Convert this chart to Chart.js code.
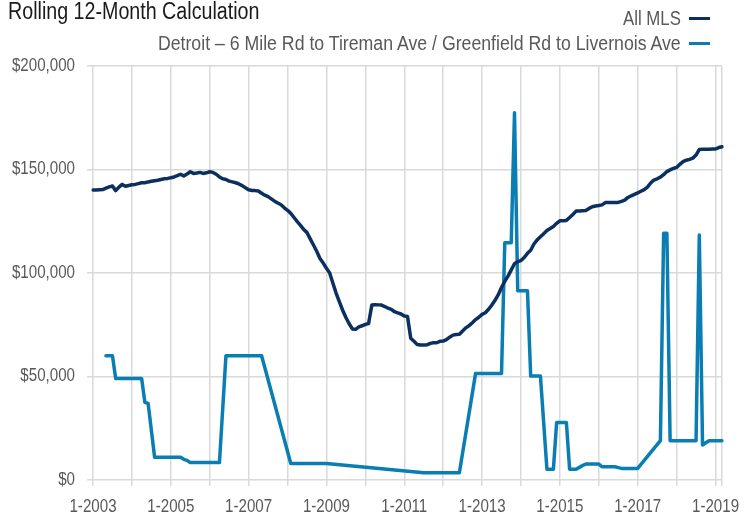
<!DOCTYPE html>
<html lang="en">
<head>
<meta charset="UTF-8">
<title>Rolling 12-Month Calculation</title>
<style>
  body { margin: 0; background: #fff; }
  #wrap {
    position: relative; width: 755px; height: 515px;
    font-family: "Liberation Sans", Arial, sans-serif;
  }
  #chart { position: absolute; left: 0; top: 0; }
  #title {
    position: absolute; left: 8px; top: -2px; font-size: 23px; line-height: 26px;
    color: #1a1a1a; white-space: nowrap; transform: scaleX(0.855); transform-origin: left center;
  }
  .leg {
    position: absolute; right: 74px; font-size: 20px; line-height: 22px; color: #595959;
    white-space: nowrap; transform-origin: right center;
  }
  .swatch { position: absolute; width: 21px; height: 3px; }
</style>
</head>
<body>
<div id="wrap">
  <canvas id="chart" width="755" height="515"></canvas>
  <div id="title">Rolling 12-Month Calculation</div>
  <div class="leg" style="top:7px; transform:scaleX(0.84)">All MLS</div>
  <div class="leg" style="top:32px; transform:scaleX(0.885)">Detroit – 6 Mile Rd to Tireman Ave / Greenfield Rd to Livernois Ave</div>
  <span class="swatch" style="left:689px; top:17px; background:#0b2f5e"></span>
  <span class="swatch" style="left:689px; top:42px; background:#0a7db3"></span>
</div>
<script src="https://cdn.jsdelivr.net/npm/chart.js"></script>
<script>
// monthly rolling 12-month median price, 1-2003 .. 3-2019
var allMls = [
  140100, 140100, 140200, 140300, 141000, 141600, 142000, 139800, 141500, 142800, 141900, 142300,
  142600, 142800, 143200, 143600, 143600, 144000, 144300, 144600, 144800, 145200, 145500, 145700,
  146000, 146400, 147000, 147700, 146900, 147800, 148900, 148100, 148300, 148600, 148100, 148400,
  148900, 148600, 147700, 146400, 145500, 145200, 144400, 144000, 143600, 143000, 142200, 141200,
  140200, 139900, 139800, 139600, 138500, 137600, 136900, 135800, 134700, 133800, 133000, 131500,
  130300, 128800, 126800, 124800, 123000, 121000, 119500, 116500, 113500, 110500, 107000, 104800,
  102300, 100000, 95000, 90200, 86000, 82000, 78500, 75500, 73000, 72800, 74000, 74500,
  75200, 75600, 84500, 84700, 84600, 84500, 83800, 83000, 82400, 81300, 80700, 80200,
  79200, 79000, 68500, 67000, 65500, 65200, 65200, 65300, 66000, 66300, 66300, 67000,
  67100, 67800, 69000, 70000, 70300, 70400, 72000, 73500, 74600, 76000, 77500, 78600,
  80000, 80800, 82500, 84500, 86800, 89500, 93000, 96000, 98500, 101500, 104500, 105500,
  106000, 107500, 109500, 111000, 114000, 116000, 117500, 119000, 120500, 121500, 122500, 124000,
  125200, 125300, 125400, 126800, 128300, 129900, 130000, 130100, 130200, 131200, 132000, 132400,
  132600, 132900, 134000, 134100, 134100, 134100, 134100, 134600, 135200, 136500, 137300, 138000,
  138700, 139500, 140300, 141500, 143500, 144900, 145500, 146300, 147500, 149000, 149800, 150500,
  151000, 152500, 153800, 154500, 154900, 155500, 157000, 159700, 159800, 159800, 159800, 159900,
  159900, 160600, 161000
];

// months without sales are null, the line spans them
var detroit = [
  null, null, null, null, 60000, 60000, 60000, 49000, 49000, 49000, 49000, 49000,
  49000, 49000, 49000, 49000, 37500, 37000, null, 11000, 11000, 11000, 11000, 11000,
  11000, 11000, 11000, 11000, 10000, 9500, 8400, 8400, 8400, 8400, 8400, 8400,
  8400, 8400, 8400, 8400, null, 60000, 60000, 60000, 60000, 60000, 60000, 60000,
  60000, 60000, 60000, 60000, 60000, null, null, null, null, null, null, null,
  null, 8000, 8000, 8000, 8000, 8000, 8000, 8000, 8000, 8000, 8000, 8000,
  8000, null, null, null, null, null, null, null, null, null, null, null,
  null, null, null, null, null, null, null, null, null, null, null, null,
  null, null, null, null, null, null, 3500, 3500, 3500, 3500, 3500, 3500,
  3500, 3500, 3500, 3500, 3500, 3500, null, null, null, null, 51500, 51500,
  51500, 51500, 51500, 51500, 51500, 51500, 51500, 114600, 114600, 114600, 177400, 91400,
  91400, 91400, 91400, 50200, 50200, 50200, 50200, null, 5200, 5200, 5200, 27800,
  27800, 27800, 27800, 5200, 5200, 5200, 6100, 7000, 7700, 7700, 7700, 7700,
  7700, 6400, 6400, 6400, 6400, 6400, 6000, 5600, 5600, 5600, 5600, 5600,
  5600, null, null, null, null, null, null, 19000, 119200, 119200, 19000, 19000,
  19000, 19000, 19000, 19000, 19000, 19000, 19000, 118400, 16900, 18000, 19000, 19000,
  19000, 19000, 19000
];

var seriesNames = ['All MLS', 'Detroit – 6 Mile Rd to Tireman Ave / Greenfield Rd to Livernois Ave'];
var yTicks = [0, 50000, 100000, 150000, 200000];

var firstYear = 2003;
var months = [];
for (var i = 0; i < allMls.length; i++) {
  months.push((i % 12 + 1) + '-' + (firstYear + Math.floor(i / 12)));
}

var tickFont = { family: '"Liberation Sans", Arial, sans-serif', size: 18 };
var gridCol = '#d9d9d9';
var last = months.length - 1;

// the reference uses a condensed face; squeeze canvas text around its anchor
var narrowText = {
  id: 'narrowText',
  beforeDraw: function (c) {
    var g = c.ctx;
    if (g._plainFill) return;
    g._plainFill = g.fillText;
    g.fillText = function (t, x, y) {
      this.save();
      this.translate(x, y);
      this.scale(0.84, 1);
      this._plainFill(t, 0, 0);
      this.restore();
    };
  }
};

var ctx = document.getElementById('chart').getContext('2d');
var chart = new Chart(ctx, {
  type: 'line',
  data: {
    labels: months,
    datasets: [{
      label: seriesNames[0],
      data: allMls,
      borderColor: '#0b2f5e',
      borderWidth: 3.5
    }, {
      label: seriesNames[1],
      data: detroit,
      borderColor: '#0a7db3',
      borderWidth: 3.5,
      spanGaps: true
    }]
  },
  options: {
    responsive: false,
    animation: false,
    layout: { padding: { top: 66, right: 33, left: 0, bottom: 0 } },
    elements: { point: { radius: 0 }, line: { tension: 0, borderJoinStyle: 'round', borderCapStyle: 'round' } },
    plugins: {
      legend: { display: false },
      title: { display: false },
      tooltip: { enabled: false }
    },
    scales: {
      x: {
        offset: false,
        border: { display: false },
        grid: {
          color: function (c) { return (c.index % 12 === 0 || c.index === last) ? gridCol : 'rgba(0,0,0,0)'; },
          lineWidth: 1.5,
          tickLength: 6
        },
        ticks: {
          autoSkip: false,
          maxRotation: 0,
          padding: 10,
          color: '#595959',
          font: tickFont,
          callback: function (v, i) { return i % 24 === 0 ? months[i] : ''; }
        },
        afterFit: function (s) { s.height = 35; }
      },
      y: {
        min: 0,
        max: 200000,
        border: { display: false },
        grid: { color: gridCol, lineWidth: 1.5, tickLength: 6 },
        afterBuildTicks: function (s) { s.ticks = yTicks.map(function (v) { return { value: v }; }); },
        ticks: {
          padding: 12,
          color: '#595959',
          font: tickFont,
          callback: function (v) { return '$' + v.toLocaleString('en-US'); }
        },
        afterFit: function (s) { s.width = 93; }
      }
    }
  },
  plugins: [narrowText]
});
</script>
</body>
</html>
